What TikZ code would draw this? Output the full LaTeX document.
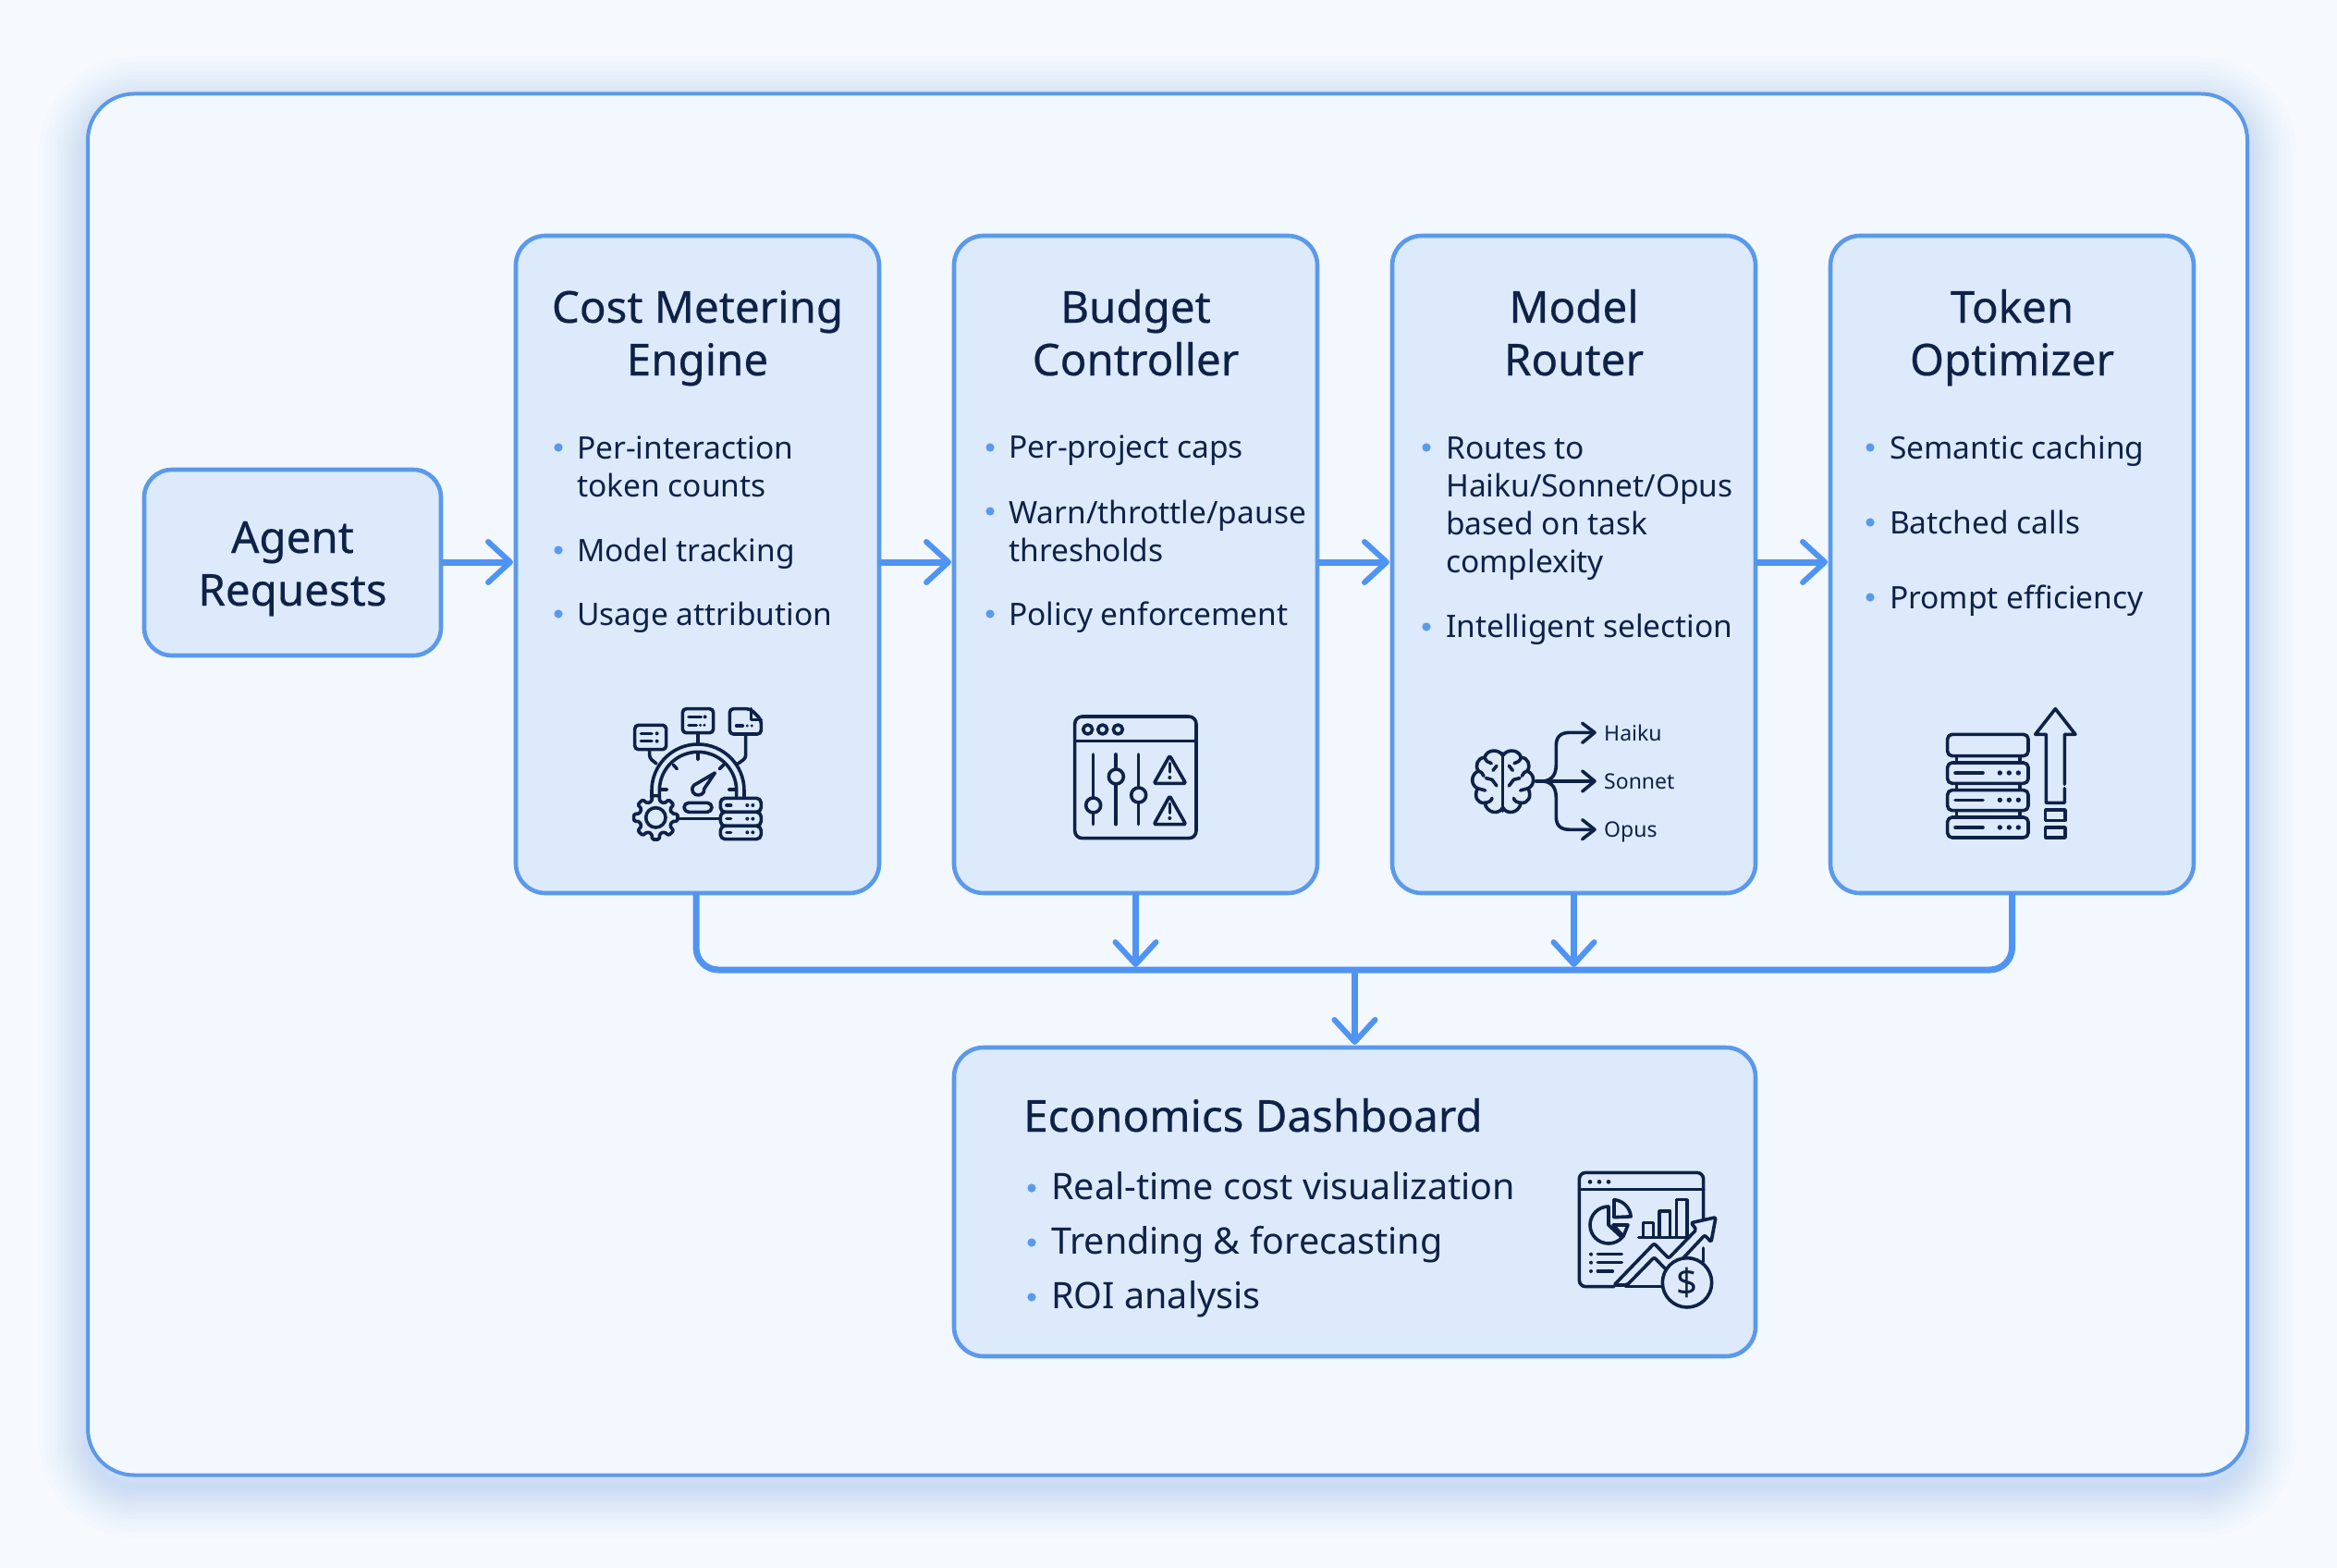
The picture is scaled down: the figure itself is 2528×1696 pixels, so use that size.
\documentclass[tikz,border=0pt]{standalone}
\usepackage{fontspec}
\setmainfont{Noto Sans}
\newfontfamily\headfont[FakeBold=0.45]{Noto Sans}
\usetikzlibrary{arrows.meta}
\definecolor{pagebg}{HTML}{F6FAFF}
\definecolor{panelbg}{HTML}{F3F8FF}
\definecolor{boxfill}{HTML}{DCEAFC}
\definecolor{edge}{HTML}{5B99EA}
\definecolor{flow}{HTML}{4F94F2}
\definecolor{glow}{HTML}{8DB8F5}
\definecolor{ink}{HTML}{0F2147}
\tikzset{
  panel/.style={draw=edge,line width=4pt,fill=panelbg,rounded corners=50pt,inner sep=0pt,outer sep=0pt},
  card/.style={draw=edge,line width=4.6pt,fill=boxfill,rounded corners=32pt,inner sep=0pt,outer sep=0pt},
  flowline/.style={draw=flow,line width=7pt,-{Straight Barb[length=24pt,width=44pt,line width=6pt,round]},shorten >=3pt},
  busline/.style={draw=flow,line width=7pt,rounded corners=24pt},
  headtext/.style={text=ink,font=\headfont\fontsize{47.5}{57}\selectfont,align=center,inner sep=0pt,anchor=base},
  itemtext/.style={text=ink,font=\fontsize{33.5}{41}\selectfont,align=left,inner sep=0pt,anchor=base west},
  dashhead/.style={text=ink,font=\headfont\fontsize{47.5}{57}\selectfont,inner sep=0pt,anchor=base west},
  dashitem/.style={text=ink,font=\fontsize{39.5}{46}\selectfont,inner sep=0pt,anchor=base west},
  smalltext/.style={text=ink,font=\fontsize{23}{28}\selectfont,inner sep=0pt,anchor=base west},
  icon/.style={draw=ink,line width=3.6pt,line cap=round,line join=round},
  iconfill/.style={icon,fill=boxfill},
  zoomed/.style={x=0.3333pt,y=-0.3333pt},
}
\newcommand{\dotat}[2]{\fill[edge] (#1,#2) circle[radius=4.6];}
\newcommand{\srvdots}[1]{\fill[ink] (250,#1) circle[radius=8] (280,#1) circle[radius=8] (310,#1) circle[radius=8];}
\newcommand{\brainhalf}{%
\draw[icon] (167,172) .. controls (155,150) and (115,150) .. (108,178)
 .. controls (85,178) and (75,205) .. (88,222)
 .. controls (62,232) and (62,268) .. (85,278)
 .. controls (72,305) and (85,328) .. (108,325)
 .. controls (115,360) and (155,365) .. (167,340);
\draw[icon] (108,178) .. controls (112,190) and (120,195) .. (130,197)
 (88,222) .. controls (95,222) and (102,230) .. (105,238)
 (112,245) -- (132,250) -- (147,270)
 (85,278) -- (110,285)
 (108,325) .. controls (118,325) and (130,320) .. (132,310)
 (147,205) -- (135,220);}
\begin{document}
\begin{tikzpicture}[x=1pt,y=-1pt]
\useasboundingbox (0,0) rectangle (2528,1696);
\fill[pagebg] (0,0) rectangle (2528,1696);
% soft glow of the panel
\foreach \w in {110,98,88,78,70,62,56,50,44,38,34,30,26,22,18,14,10,6}{
  \draw[glow,opacity=0.022,line width=\w pt,rounded corners=50pt] (97,116) rectangle (2429,1608);
}
\node[panel,minimum width=2336pt,minimum height=1494pt] (outer) at (1263,848.5) {};

% cards
\node[card,minimum width=321pt,minimum height=201pt,rounded corners=30pt] (agent) at (316.5,608.5) {};
\node[card,minimum width=393pt,minimum height=711pt] (cost) at (754.5,610.5) {};
\node[card,minimum width=393pt,minimum height=711pt] (budget) at (1228.5,610.5) {};
\node[card,minimum width=393pt,minimum height=711pt] (model) at (1702.5,610.5) {};
\node[card,minimum width=393pt,minimum height=711pt] (token) at (2176.5,610.5) {};
\node[card,minimum width=867pt,minimum height=334pt] (dash) at (1465.5,1300) {};

% connectors
\coordinate (busleft) at (753,1049);
\coordinate (busright) at (2176.5,1049);
\coordinate (busmid) at (dash.north |- busleft);
\draw[busline] (busleft |- cost.south) -- (busleft) -- (busright) -- (token.south);
\draw[flowline] (agent.east |- 0,608) -- (cost.west |- 0,608);
\draw[flowline] (cost.east |- 0,608) -- (budget.west |- 0,608);
\draw[flowline] (budget.east |- 0,608) -- (model.west |- 0,608);
\draw[flowline] (model.east |- 0,608) -- (token.west |- 0,608);
\draw[flowline] (budget.south) -- (budget.south |- busleft);
\draw[flowline] (model.south) -- (model.south |- busleft);
\draw[flowline] (busmid) -- (dash.north);

% titles (positions are the baselines of the last lines)
\node[headtext] (agentT) at (316.5,655) {Agent\\Requests};
\node[headtext] (costT) at (754.5,406) {Cost Metering\\Engine};
\node[headtext] (budgetT) at (1228.5,406) {Budget\\Controller};
\node[headtext] (modelT) at (1702.5,406) {Model\\Router};
\node[headtext] (tokenT) at (2176.5,406) {Token\\Optimizer};

% cost items
\dotat{604}{484}\node[itemtext] (c1) at (624,537) {Per-interaction\\token counts};
\dotat{604}{595}\node[itemtext] (c2) at (624,607) {Model tracking};
\dotat{604}{664}\node[itemtext] (c3) at (624,676) {Usage attribution};
% budget items
\dotat{1071}{484}\node[itemtext] (b1) at (1091,495) {Per-project caps};
\dotat{1071}{553}\node[itemtext] (b2) at (1091,607) {Warn/throttle/pause\\thresholds};
\dotat{1071}{664}\node[itemtext] (b3) at (1091,676) {Policy enforcement};
% model items
\dotat{1543}{484}\node[itemtext] (m1) at (1564,619) {Routes to\\Haiku/Sonnet/Opus\\based on task\\complexity};
\dotat{1543}{678}\node[itemtext] (m2) at (1564,689) {Intelligent selection};
% token items
\dotat{2023}{484}\node[itemtext] (t1) at (2044,496) {Semantic caching};
\dotat{2023}{565}\node[itemtext] (t2) at (2044,577) {Batched calls};
\dotat{2023}{646}\node[itemtext] (t3) at (2044,658) {Prompt efficiency};
% dashboard
\node[dashhead] (dashT) at (1107,1224) {Economics Dashboard};
\dotat{1116}{1285}\node[dashitem] (d1) at (1137,1297) {Real-time cost visualization};
\dotat{1116}{1344}\node[dashitem] (d2) at (1137,1356) {Trending \& forecasting};
\dotat{1116}{1403}\node[dashitem] (d3) at (1137,1415) {ROI analysis};

% icon: gauge
\begin{scope}[shift={(660,740)},zoomed]
\draw[icon] (135,370) -- (135,345) arc[start angle=180,end angle=360,radius=150] -- (435,370);
\draw[icon] (160,370) -- (160,345) arc[start angle=180,end angle=360,radius=125] -- (410,370);
\draw[icon] (285,225)--(285,245) (205,262)--(217,275) (368,262)--(355,275) (160,342)--(185,342) (410,342)--(385,342);
\draw[iconfill] (340,288) -- (272,328) .. controls (258,345) and (272,362) .. (288,360) .. controls (305,358) and (305,345) .. (305,340) -- cycle;
\draw[iconfill,rounded corners=5pt] (240,385) rectangle (330,415);
\draw[icon] (220,437) -- (358,437);
\draw[iconfill,rounded corners=5pt] (358,370) rectangle (490,415);
\draw[iconfill,rounded corners=5pt] (358,415) rectangle (490,460);
\draw[iconfill,rounded corners=5pt] (358,460) rectangle (490,503);
\foreach \r in {393,437,481}{
  \draw[icon] (378,\r) -- (392,\r);
  \fill[ink] (445,\r) circle[radius=6] (463,\r) circle[radius=6];
}
\begin{scope}[shift={(148,433)}]
\draw[iconfill,rounded corners=1.5pt] (-14:54) \foreach \a in {0,45,...,315}{ -- (\a-14:54) -- (\a-9:72) -- (\a+9:72) -- (\a+14:54) } -- cycle;
\draw[icon] (0,0) circle[radius=32];
\end{scope}
\draw[iconfill,rounded corners=4pt] (80,133) rectangle (182,212);
\draw[icon,rounded corners=3pt] (128,212) -- (128,240) -- (150,258);
\draw[icon] (100,160)--(135,160) (100,185)--(135,185);
\fill[ink] (152,160) circle[radius=6] (152,185) circle[radius=6];
\draw[iconfill,rounded corners=4pt] (235,80) rectangle (335,158);
\draw[icon] (285,158) -- (285,195);
\draw[icon] (255,106)--(295,106) (255,133)--(280,133);
\fill[ink] (308,106) circle[radius=6] (293,133) circle[radius=5] (306,133) circle[radius=5];
\draw[iconfill,rounded corners=4pt] (388,80) -- (455,80) -- (490,115) -- (490,162) -- (388,162) -- cycle;
\draw[icon] (458,80) -- (458,115) -- (490,115);
\draw[icon,rounded corners=3pt] (440,162) -- (440,240) -- (415,258);
\draw[icon] (410,135)--(430,135);
\fill[ink] (445,135) circle[radius=5] (460,135) circle[radius=5];
\end{scope}

% icon: sliders
\begin{scope}[shift={(1140,760)},zoomed]
\draw[icon,rounded corners=8pt] (68,45) rectangle (462,440);
\draw[icon] (68,125) -- (462,125);
\draw[icon] (110,87) circle[radius=15] (158,87) circle[radius=15] (208,87) circle[radius=15];
\draw[icon] (128,168)--(128,395) (201,168)--(201,395) (275,168)--(275,395);
\draw[iconfill] (128,333) circle[radius=24] (202,240) circle[radius=24] (275,300) circle[radius=24];
\draw[icon,rounded corners=2pt] (376,172) -- (428,262) -- (325,262) -- cycle;
\draw[icon,rounded corners=2pt] (376,303) -- (428,395) -- (325,395) -- cycle;
\draw[icon] (376,197)--(376,225) (376,328)--(376,358);
\fill[ink] (376,243) circle[radius=6] (376,375) circle[radius=6];
\end{scope}

% icon: router
\begin{scope}[shift={(1570,760)},zoomed]
\draw[icon] (167,165) -- (167,352);
\brainhalf
\begin{scope}[shift={(334,0)},xscale=-1]
\brainhalf
\end{scope}
\draw[icon] (275,255) -- (462,255);
\draw[icon] (300,255) .. controls (330,250) and (340,230) .. (340,200) -- (340,140) .. controls (340,110) and (355,97) .. (385,97) -- (462,97);
\draw[icon] (300,255) .. controls (330,260) and (340,280) .. (340,310) -- (340,370) .. controls (340,400) and (355,412) .. (385,412) -- (462,412);
\draw[icon] (425,67)--(465,97)--(425,130) (425,222)--(465,255)--(425,288) (425,380)--(465,412)--(425,443);
\end{scope}
\node[smalltext] (haiku) at (1735,801) {Haiku};
\node[smalltext] (sonnet) at (1735,853) {Sonnet};
\node[smalltext] (opus) at (1735,905) {Opus};

% icon: servers and arrow
\begin{scope}[shift={(2080,750)},zoomed]
\draw[icon] (110,203)--(110,402) (315,203)--(315,402);
\draw[iconfill,rounded corners=5pt] (80,133) rectangle (342,203);
\foreach \t/\b/\c in {225/292/258,314/380/346,402/468/435}{
  \draw[iconfill,rounded corners=5pt] (80,\t) rectangle (342,\b);
  \draw[icon] (105,\c) -- (195,\c);
  \srvdots{\c}
}
\draw[icon] (460,295) -- (460,133) -- (495,133) -- (430,50) -- (365,133) -- (400,133) -- (400,355) -- (460,355) -- (460,308);
\draw[icon] (398,378) rectangle (462,412) (398,435) rectangle (462,468);
\end{scope}

% icon: dashboard
\begin{scope}[shift={(1690,1250)},zoomed]
\draw[icon,rounded corners=7pt] (458,205) -- (458,55) -- (55,55) -- (55,425) -- (168,425);
\draw[icon] (205,425) -- (325,425) (458,300) -- (458,345);
\draw[icon] (55,110) -- (458,110);
\fill[ink] (90,85) circle[radius=7] (120,85) circle[radius=7] (150,85) circle[radius=7];
\draw[icon] (150,165) arc[start angle=270,delta angle=-227,radius=60] -- (150,225) -- cycle;
\draw[icon] (168,143) arc[start angle=-85,end angle=-5,radius=60] -- (168,200) -- cycle;
\draw[icon] (165,225) -- (213,225) -- (198,262) -- cycle;
\draw[icon] (248,265) -- (400,265);
\draw[icon] (262,265) -- (262,218) -- (296,218) -- (296,265) (315,265) -- (315,180) -- (350,180) -- (350,265) (370,265) -- (370,143) -- (405,143) -- (405,265);
\fill[ink] (93,320) circle[radius=6] (93,347) circle[radius=6] (93,375) circle[radius=6];
\draw[icon] (115,320)--(193,320) (115,347)--(193,347) (115,375)--(163,375);
\draw[iconfill,rounded corners=2pt] (168,420) -- (298,285) -- (345,333) -- (435,240) -- (418,218) -- (498,200) -- (483,280) -- (462,258) -- (390,335) -- (345,378) -- (298,330) -- (210,420) -- cycle;
\draw[iconfill] (405,412) circle[radius=80];
\end{scope}
\node[text=ink,font=\fontsize{40}{44}\selectfont,inner sep=0pt] (dollar) at (1825,1387) {\$};
\end{tikzpicture}
\end{document}
